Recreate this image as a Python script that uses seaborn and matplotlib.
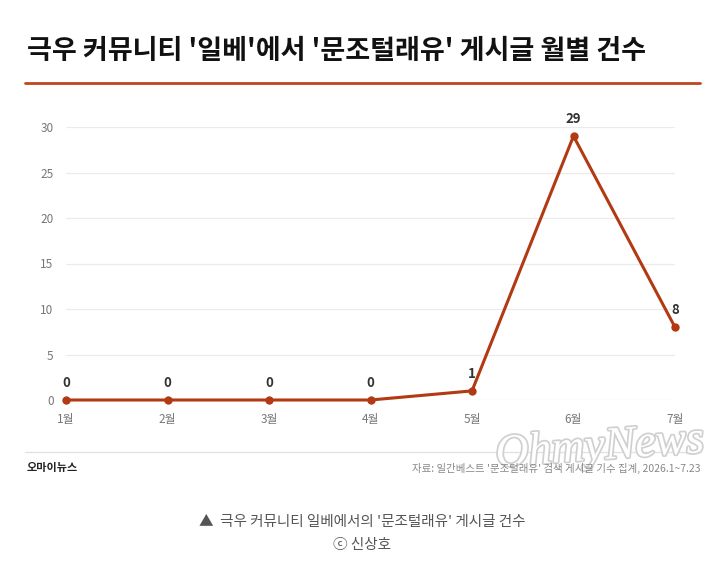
import matplotlib
matplotlib.use('Agg')
import matplotlib.pyplot as plt
import matplotlib.patheffects as pe
import seaborn as sns
import pandas as pd

sns.set_theme(style="white")
plt.rcParams['font.family'] = ['Noto Sans CJK KR', 'DejaVu Sans']

# ── DATA ────────────────────────────────────────────────
months = ['1월', '2월', '3월', '4월', '5월', '6월', '7월']
counts = [0, 0, 0, 0, 1, 29, 8]
y_ticks = [0, 5, 10, 15, 20, 25, 30]

title = "극우 커뮤니티 '일베'에서 '문조털래유' 게시글 월별 건수"
source = "자료: 일간베스트 '문조털래유' 검색 게시글 기수 집계, 2026.1~7.23"
brand = "오마이뉴스"
caption = "▲  극우 커뮤니티 일베에서의 '문조털래유' 게시글 건수"
credit = "ⓒ 신상호"

LINE = '#b23a12'
df = pd.DataFrame({'month': months, 'count': counts})

W, H = 724, 573
fig = plt.figure(figsize=(W / 100, H / 100), dpi=100)
fig.patch.set_facecolor('white')

# axes placed by pixel box: x 66..675, y 127..400
ax = fig.add_axes([66 / W, 1 - 400 / H, (675 - 66) / W, (400 - 127) / H])
sns.lineplot(data=df, x='month', y='count', ax=ax, color=LINE, linewidth=2.2,
             marker='o', markersize=6, markeredgewidth=0, sort=False, clip_on=False)
ax.set_xlim(0, len(months) - 1)
ax.set_ylim(0, 30)
ax.set_yticks(y_ticks)
ax.set_xlabel('')
ax.set_ylabel('')
for s in ax.spines.values():
    s.set_visible(False)
ax.grid(axis='y', color='#ebebeb', linewidth=0.9)
ax.set_axisbelow(True)
ax.tick_params(axis='both', length=0, labelsize=8.5, labelcolor='#777777')
ax.tick_params(axis='y', pad=9)
ax.tick_params(axis='x', pad=9)

for i, v in enumerate(counts):
    ax.annotate(str(v), (i, v), xytext=(0, 7), textcoords='offset points',
                ha='center', va='bottom', fontsize=9.5, fontweight='bold',
                color='#333333', annotation_clip=False)

# title and rule
fig.text(27 / W, 1 - 51 / H, title, fontsize=19.5, fontweight='bold',
         color='#111111', va='center', ha='left')
fig.add_artist(plt.Line2D([25 / W, 700 / W], [1 - 83 / H, 1 - 83 / H],
                          color='#c0451f', linewidth=2))

# watermark
fig.text(600 / W, 1 - 448 / H, 'OhmyNews', fontsize=33, family='Liberation Serif',
         style='italic', color='white', ha='center', va='center', rotation=4,
         path_effects=[pe.withStroke(linewidth=2.5, foreground='#d0d0d0')])

# footer
fig.add_artist(plt.Line2D([25 / W, 700 / W], [1 - 452 / H, 1 - 452 / H],
                          color='#e2e2e2', linewidth=1))
fig.text(27 / W, 1 - 468 / H, brand, fontsize=8, fontweight='bold',
         color='#222222', va='center', ha='left')
fig.text(700 / W, 1 - 468 / H, source, fontsize=7.5, color='#888888',
         va='center', ha='right')

# caption
fig.text(362 / W, 1 - 522 / H, caption, fontsize=10.5, color='#555555',
         va='center', ha='center')
fig.text(362 / W, 1 - 545 / H, credit, fontsize=10.5, color='#555555',
         va='center', ha='center')

plt.savefig('out.png', dpi=100)
plt.close()
